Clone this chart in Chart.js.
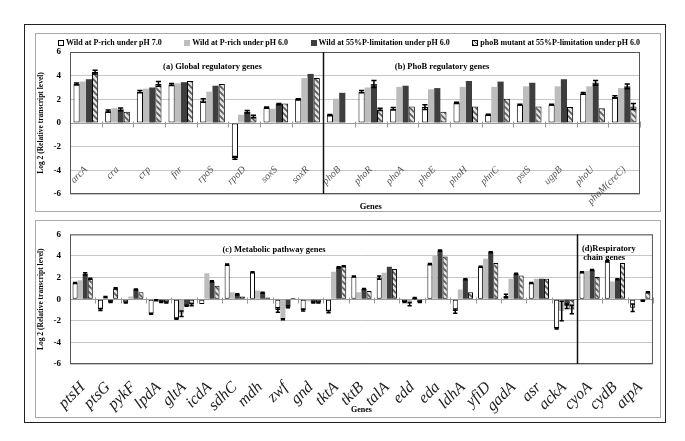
<!DOCTYPE html>
<html>
<head>
<meta charset="utf-8">
<script src="https://cdn.jsdelivr.net/npm/chart.js@4.4.0/dist/chart.umd.min.js"></script>
<style>
  body { margin: 0; background: #fff; }
  #frame { position: absolute; left: 24px; top: 24px; width: 642px; height: 399px; border: 1px solid #222; box-sizing: border-box; }
  .box { position: absolute; border: 1px solid #a8a8a8; box-sizing: border-box; pointer-events: none; }
  canvas { position: absolute; }
  #legend { position: absolute; left: 58px; top: 38px; width: 582px; display: flex; justify-content: space-between;
            font: bold 8px "Liberation Serif", serif; color: #000; white-space: nowrap; }
  #legend span.sw { display: inline-block; width: 6px; height: 6px; margin-right: 2px; box-sizing: border-box; vertical-align: -0.5px; }
</style>
</head>
<body>
<div id="frame"></div>
<canvas id="topChart" width="625" height="178" style="left:35px;top:33px"></canvas>
<canvas id="bottomChart" width="625" height="197" style="left:35px;top:220px"></canvas>
<div class="box" style="left:35px;top:33px;width:626px;height:179px"></div>
<div class="box" style="left:35px;top:220px;width:626px;height:198px"></div>
<div id="legend"></div>

<script>
// series (same four conditions in both panels)
const seriesNames = ['Wild at P-rich under pH 7.0', 'Wild at P-rich under pH 6.0',
  'Wild at 55%P-limitation under pH 6.0', 'phoB mutant at 55%P-limitation under pH 6.0'];
const yTicks = [-6, -4, -2, 0, 2, 4, 6];

// (a) global regulatory genes + (b) PhoB regulatory genes
const topGenes = ['arcA', 'cra', 'crp', 'fnr', 'rpoS', 'rpoD', 'soxS', 'soxR', 'phoB', 'phoR', 'phoA', 'phoE',
  'phoH', 'phnC', 'pstS', 'ugpB', 'phoU', 'phoM(creC)'];
const topPH7 = [3.3, 1.0, 2.65, 3.25, 1.9, -2.95, 1.3, 2.0, 0.67, 2.65, 1.2, 1.35, 1.7, 0.7, 1.55, 1.55, 2.5, 2.2];
const topPH6 = [3.5, 1.25, 2.9, 3.35, 2.65, 0.7, 1.2, 3.8, 2.05, 3.0, 3.05, 2.85, 3.05, 3.05, 3.1, 3.1, 3.1, 2.95];
const topLim = [3.7, 1.15, 3.0, 3.45, 3.15, 0.95, 1.6, 4.15, 2.55, 3.3, 3.15, 2.95, 3.55, 3.5, 3.4, 3.7, 3.4, 3.1];
const topMut = [4.3, 0.95, 3.3, 3.55, 3.3, 0.55, 1.65, 3.8, null, 1.15, 1.4, 0.95, 1.4, 2.05, 1.4, 1.35, 1.25, 1.4];
const topErrPH7 = [0.08, 0.1, 0.1, 0.08, 0.15, 0.12, 0.05, 0.05, 0.05, 0.1, 0.1, 0.2, 0.05, 0.05, 0.03, 0.03, 0.08, 0.1];
const topErrPH6 = [0, 0, 0, 0, 0, 0, 0, 0, 0, 0, 0, 0, 0, 0, 0, 0, 0, 0];
const topErrLim = [0, 0.12, 0, 0, 0, 0.1, 0.05, 0, 0, 0.3, 0, 0, 0, 0, 0, 0, 0.2, 0.2];
const topErrMut = [0.15, 0, 0.2, 0, 0, 0.1, 0, 0, 0, 0.1, 0, 0, 0, 0, 0, 0, 0, 0.25];

// (c) metabolic pathway genes + (d) respiratory chain genes
const bottomGenes = ['ptsH', 'ptsG', 'pykF', 'lpdA', 'gltA', 'icdA', 'sdhC', 'mdh', 'zwf', 'gnd', 'tktA', 'tktB',
  'talA', 'edd', 'eda', 'ldhA', 'yfiD', 'gadA', 'asr', 'ackA', 'cyoA', 'cydB', 'atpA'];
const botPH7 = [1.5, -0.95, -0.3, -1.35, -1.8, -0.45, 3.2, 2.5, -1.0, -1.0, -1.15, 2.1, 2.0, -0.25, 3.25, -1.1, 3.0, 0.3, 1.5, -2.7, 2.5, 3.5, -0.8];
const botPH6 = [1.75, 0.2, 0.25, -0.1, -1.35, 2.4, 0.65, 0.8, -1.85, -0.2, 2.55, 0.65, 2.45, -0.45, 4.0, 0.9, 3.75, 1.9, 1.9, -1.1, 2.6, 1.65, -0.05];
const botLim = [2.35, -0.25, 0.9, -0.25, -0.6, 1.65, 0.45, 0.6, -0.7, -0.3, 2.95, 0.95, 3.0, 0.1, 4.5, 1.85, 4.35, 2.35, 1.9, -0.65, 2.7, 1.85, -0.15];
const botMut = [1.9, 1.0, 0.65, -0.3, -0.5, 1.25, 0.25, 0.15, 0.1, -0.3, 3.05, 0.75, 2.8, -0.25, 3.95, 0.65, 3.35, 2.2, 1.9, -0.95, 2.05, 3.35, 0.65];
const botErrPH7 = [0.05, 0.1, 0.05, 0.05, 0.05, 0, 0.05, 0.05, 0.2, 0.1, 0.1, 0.05, 0.15, 0.05, 0.05, 0.2, 0.05, 0.15, 0.05, 0.05, 0.05, 0.05, 0.35];
const botErrPH6 = [0, 0.05, 0, 0.05, 0.25, 0, 0, 0, 0.05, 0, 0, 0, 0, 0.15, 0, 0, 0, 0, 0, 0.9, 0, 0, 0];
const botErrLim = [0.1, 0.05, 0.05, 0.05, 0.05, 0.05, 0.05, 0.05, 0.1, 0.05, 0.05, 0.05, 0, 0.05, 0.05, 0.05, 0.05, 0.05, 0, 0.2, 0.05, 0.05, 0.05];
const botErrMut = [0.05, 0.05, 0, 0.05, 0.1, 0, 0, 0, 0, 0.05, 0.05, 0, 0, 0.05, 0, 0, 0, 0, 0, 0.4, 0, 0, 0.05];

const serif = '"Liberation Serif", "Times New Roman", serif';

function hatchPattern(ctx) {
  const c = document.createElement('canvas');
  c.width = 6; c.height = 6;
  const g = c.getContext('2d');
  g.fillStyle = '#e4e4e4';
  g.fillRect(0, 0, 6, 6);
  g.strokeStyle = '#5a5a5a';
  g.lineWidth = 1.6;
  g.beginPath();
  g.moveTo(0, 0); g.lineTo(6, 6);
  g.moveTo(-3, 3); g.lineTo(3, 9);
  g.moveTo(3, -3); g.lineTo(9, 3);
  g.stroke();
  return ctx.createPattern(c, 'repeat');
}

function makeSets(ctx, values, errors) {
  const fills = ['#ffffff', '#bdbdbd', '#3e3e3e', hatchPattern(ctx)];
  const borders = [1, 0, 0, 1];
  return values.map((v, i) => ({
    label: seriesNames[i],
    data: v,
    errs: errors[i],
    backgroundColor: fills[i],
    borderColor: '#000',
    borderWidth: borders[i],
    borderSkipped: false
  }));
}

// error bars drawn from each dataset's errs array
const errorBars = {
  id: 'errorBars',
  afterDatasetsDraw(chart) {
    const { ctx } = chart;
    const y = chart.scales.y;
    ctx.save();
    ctx.strokeStyle = '#000';
    ctx.lineWidth = 1.5;
    chart.data.datasets.forEach((ds, i) => {
      const meta = chart.getDatasetMeta(i);
      ds.data.forEach((v, j) => {
        const e = ds.errs[j];
        if (v == null || !e) return;
        const bar = meta.data[j];
        const half = bar.width * 0.42;
        const hi = y.getPixelForValue(v + e), lo = y.getPixelForValue(v - e);
        ctx.beginPath();
        ctx.moveTo(bar.x, hi); ctx.lineTo(bar.x, lo);
        ctx.moveTo(bar.x - half, hi); ctx.lineTo(bar.x + half, hi);
        ctx.moveTo(bar.x - half, lo); ctx.lineTo(bar.x + half, lo);
        ctx.stroke();
      });
    });
    ctx.restore();
  }
};

// plot frame, tick marks on the zero line, group divider and panel captions
const panelDecor = {
  id: 'panelDecor',
  beforeDatasetsDraw(chart) {
    const { ctx } = chart;
    const { x, y } = chart.scales;
    const y0 = Math.round(y.getPixelForValue(0)) + 0.5;
    ctx.save();
    ctx.strokeStyle = '#9a9a9a';
    ctx.lineWidth = 1;
    ctx.beginPath();
    for (let i = 0; i <= chart.data.labels.length; i++) {
      const px = Math.round(x.getPixelForValue(i - 0.5)) + 0.5;
      ctx.moveTo(px, y0 - 2); ctx.lineTo(px, y0 + 4);
    }
    ctx.stroke();
    ctx.restore();
  },
  afterDraw(chart, args, opts) {
    const { ctx, chartArea: a } = chart;
    const { x, y } = chart.scales;
    ctx.save();
    ctx.strokeStyle = '#555';
    ctx.lineWidth = 1;
    ctx.strokeRect(a.left + 0.5, a.top + 0.5, a.width - 1, a.height - 1);
    const dx = Math.round(x.getPixelForValue(opts.divider)) + 0.5;
    ctx.strokeStyle = '#111';
    ctx.lineWidth = 1.5;
    ctx.beginPath(); ctx.moveTo(dx, a.top); ctx.lineTo(dx, a.bottom); ctx.stroke();
    ctx.fillStyle = '#000';
    ctx.font = 'bold 8.5px ' + serif;
    ctx.textBaseline = 'middle';
    opts.notes.forEach(n => {
      ctx.textAlign = n.align;
      ctx.fillText(n.text, x.getPixelForValue(n.at), y.getPixelForValue(n.level));
    });
    ctx.restore();
  }
};

function yAxis() {
  return {
    min: -6, max: 6,
    afterBuildTicks: s => { s.ticks = yTicks.map(v => ({ value: v })); },
    ticks: { font: { family: serif, weight: 'bold', size: 9 }, color: '#000', padding: 9 },
    grid: { color: c => (c.tick && c.tick.value === 0 ? '#9a9a9a' : '#c6c6c6'), drawTicks: false },
    border: { display: false },
    title: { display: true, text: 'Log 2 (Relative transcript level)', color: '#000',
             font: { family: serif, weight: 'bold', size: 7.5 }, padding: { top: 2, bottom: 2 } },
    afterFit: s => { s.width = 35; }
  };
}

// legend
const legendEl = document.getElementById('legend');
const swatches = ['background:#fff;border:1px solid #000', 'background:#bdbdbd', 'background:#3e3e3e',
  'background:repeating-linear-gradient(45deg,#5a5a5a 0 1px,#e4e4e4 1px 3px);border:1px solid #000'];
seriesNames.forEach((name, i) => {
  const item = document.createElement('div');
  item.innerHTML = '<span class="sw" style="' + swatches[i] + '"></span>' + name;
  legendEl.appendChild(item);
});

const topCtx = document.getElementById('topChart').getContext('2d');
new Chart(topCtx, {
  type: 'bar',
  data: {
    labels: topGenes,
    datasets: makeSets(topCtx, [topPH7, topPH6, topLim, topMut], [topErrPH7, topErrPH6, topErrLim, topErrMut])
  },
  options: {
    responsive: false, animation: false, devicePixelRatio: 1,
    categoryPercentage: 0.78, barPercentage: 1.0,
    layout: { padding: { top: 19, right: 20, bottom: 17, left: 0 } },
    plugins: {
      legend: { display: false }, tooltip: { enabled: false },
      panelDecor: {
        divider: 7.5,
        notes: [
          { text: '(a) Global regulatory genes', at: 4, level: 4.75, align: 'center' },
          { text: '(b) PhoB regulatory genes', at: 11.25, level: 4.75, align: 'center' },
          { text: 'Genes', at: 9, level: -7.1, align: 'center' }
        ]
      }
    },
    scales: {
      x: {
        // gene names hang inside the plot, below the zero line (which comes from the y grid)
        position: { y: -3.2 },
        ticks: { autoSkip: false, minRotation: 45, maxRotation: 45, color: '#555',
                 font: { family: serif, style: 'italic', size: 10 } },
        grid: { offset: true, drawOnChartArea: false, drawTicks: false },
        border: { display: false },
        afterFit: s => { s.height = 0; }
      },
      y: yAxis()
    }
  },
  plugins: [errorBars, panelDecor]
});

const botCtx = document.getElementById('bottomChart').getContext('2d');
new Chart(botCtx, {
  type: 'bar',
  data: {
    labels: bottomGenes,
    datasets: makeSets(botCtx, [botPH7, botPH6, botLim, botMut], [botErrPH7, botErrPH6, botErrLim, botErrMut])
  },
  options: {
    responsive: false, animation: false, devicePixelRatio: 1,
    categoryPercentage: 0.8, barPercentage: 1.0,
    layout: { padding: { top: 5, right: 7, bottom: 0, left: 0 } },
    plugins: {
      legend: { display: false }, tooltip: { enabled: false },
      panelDecor: {
        divider: 19.5,
        notes: [
          { text: '(c) Metabolic pathway genes', at: 7.55, level: 4.55, align: 'center' },
          { text: '(d)Respiratory', at: 19.7, level: 4.7, align: 'left' },
          { text: 'chain genes', at: 19.75, level: 3.85, align: 'left' }
        ]
      }
    },
    scales: {
      x: {
        ticks: { autoSkip: false, minRotation: 45, maxRotation: 45, padding: 6, color: '#222',
                 font: { family: serif, style: 'italic', size: 16 } },
        grid: { display: false },
        border: { display: false },
        title: { display: true, text: 'Genes', color: '#000', font: { family: serif, weight: 'bold', size: 8 },
                 padding: { top: 0, bottom: 2 } },
        afterFit: s => { s.height = 53; }
      },
      y: yAxis()
    }
  },
  plugins: [errorBars, panelDecor]
});
</script>
</body>
</html>
